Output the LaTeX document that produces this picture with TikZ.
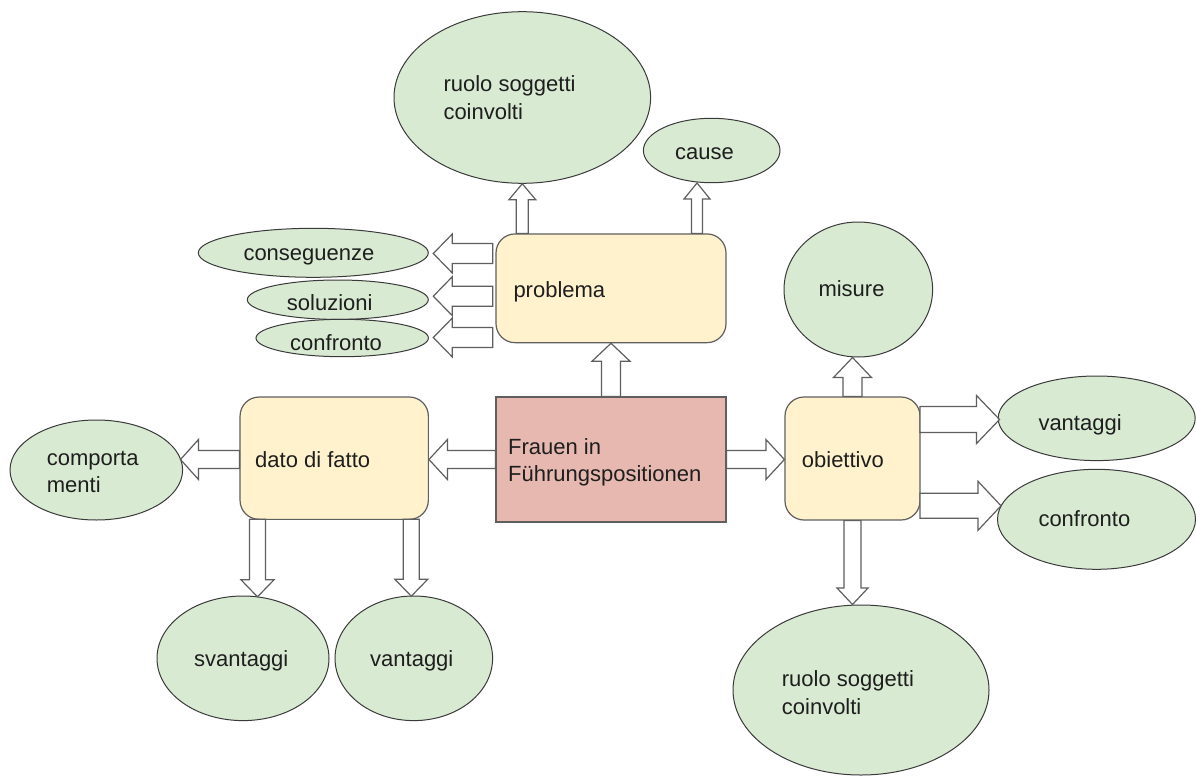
\documentclass[tikz,border=0pt]{standalone}
\usepackage{fontspec}
\setmainfont{Liberation Sans}
\usetikzlibrary{shapes.geometric,calc}
\definecolor{cgreen}{HTML}{D9EAD3}
\definecolor{cyellow}{HTML}{FFF2CC}
\definecolor{cpink}{HTML}{E6B8AF}
\definecolor{cline}{HTML}{5F5F5F}
\definecolor{cdark}{HTML}{3A3A3A}
\definecolor{ctext}{HTML}{1E1E1E}
\tikzset{
  ell/.style={ellipse, draw=cdark, fill=cgreen, line width=1pt, inner sep=0pt},
  rbox/.style={rectangle, rounded corners=19pt, draw=cline, fill=cyellow, line width=1.2pt, inner sep=0pt},
  mainbox/.style={rectangle, draw=cline, fill=cpink, line width=1.2pt, inner sep=0pt},
  lbl/.style={anchor=base west, inner sep=0pt, text=ctext, font=\fontsize{22}{27.6}\selectfont},
  blockarrow/.style={draw=cline, fill=white, line width=1.2pt, line join=miter},
}
% block arrow: #1 start, #2 tip, #3 angle, #4 half shaft, #5 half head, #6 head length
\newcommand\barrow[6]{%
  \begin{scope}[shift={(#1)},rotate=#3]
    \draw[blockarrow] let \p1=(#1), \p2=(#2), \n1={veclen(\x2-\x1,\y2-\y1)} in
      (0pt,-#4pt) -- ({\n1-#6pt},-#4pt) -- ({\n1-#6pt},-#5pt) -- (\n1,0pt)
      -- ({\n1-#6pt},#5pt) -- ({\n1-#6pt},#4pt) -- (0pt,#4pt) -- cycle;
  \end{scope}}
\begin{document}
\begin{tikzpicture}[x=1pt,y=-1pt]
\useasboundingbox[fill=white] (0,0) rectangle (1196,776);
% ellipses
\node[ell, minimum width=256.6pt, minimum height=171.6pt] (ruolo1) at (522.3,97.5) {};
\node[ell, minimum width=136.6pt, minimum height=64.4pt] (cause) at (711.7,150.5) {};
\node[ell, minimum width=230pt, minimum height=49pt] (consegu) at (313.3,252.8) {};
\node[ell, minimum width=181pt, minimum height=39.4pt] (soluz) at (337.8,299.7) {};
\node[ell, minimum width=172.4pt, minimum height=37.4pt] (confr1) at (342.2,338) {};
\node[ell, minimum width=172.6pt, minimum height=100pt] (comport) at (96.3,470) {};
\node[ell, minimum width=172pt, minimum height=124.6pt] (svant) at (243,658.3) {};
\node[ell, minimum width=157.6pt, minimum height=124.6pt] (vant1) at (413.8,658.3) {};
\node[ell, minimum width=148.6pt, minimum height=135pt] (misure) at (858.3,289.5) {};
\node[ell, minimum width=197pt, minimum height=84.6pt] (vant2) at (1096.7,418.3) {};
\node[ell, minimum width=198pt, minimum height=100pt] (confr2) at (1096.5,519.3) {};
\node[ell, minimum width=256pt, minimum height=170pt] (ruolo2) at (861,690) {};
% boxes
\node[mainbox, minimum width=230pt, minimum height=125pt] (frauen) at (611,459.5) {};
\node[rbox, minimum width=230pt, minimum height=108.7pt] (prob) at (611,288.3) {};
\node[rbox, minimum width=188.3pt, minimum height=122.3pt] (dato) at (334.2,458.2) {};
\node[rbox, minimum width=135pt, minimum height=123pt] (obi) at (852.5,458.5) {};
% labels
\node[lbl] (t1a) at (443.3,91.7) {ruolo soggetti};
\node[lbl] (t1b) at (443.3,119.3) {coinvolti};
\node[lbl] (t2) at (675,159.3) {cause};
\node[lbl] (t3) at (243.3,260.7) {conseguenze};
\node[lbl] (t4) at (286.7,310) {soluzioni};
\node[lbl] (t5) at (290,350) {confronto};
\node[lbl] (t6) at (513.3,297.3) {problema};
\node[lbl] (t7a) at (508,454) {Frauen in};
\node[lbl] (t7b) at (508,481.7) {Führungspositionen};
\node[lbl] (t8) at (255,467.3) {dato di fatto};
\node[lbl] (t9a) at (46.7,465) {comporta};
\node[lbl] (t9b) at (46.7,492.7) {menti};
\node[lbl] (t10) at (801.7,467) {obiettivo};
\node[lbl] (t11) at (818.3,296) {misure};
\node[lbl] (t12) at (1038.3,430) {vantaggi};
\node[lbl] (t13) at (1038.3,526.7) {confronto};
\node[lbl] (t14) at (194,666.7) {svantaggi};
\node[lbl] (t15) at (370,666.7) {vantaggi};
\node[lbl] (t16a) at (781.7,686.7) {ruolo soggetti};
\node[lbl] (t16b) at (781.7,714) {coinvolti};
% arrow end points
\coordinate (rs) at (ruolo1.south |- prob.north);
\coordinate (ct) at (697,183);
\coordinate (cs) at (ct |- prob.north);
\coordinate (pcs) at (492.7,253.5);
\coordinate (pce) at (433.3,253.5);
\coordinate (pss) at (492.7,296.2);
\coordinate (pse) at (433.3,296.2);
\coordinate (pfs) at (492.7,337.5);
\coordinate (pfe) at (433.3,337.5);
\coordinate (fde) at (dato.east |- frauen.west);
\coordinate (dcs) at (dato.west |- frauen.west);
\coordinate (dce) at (180.5,459.2);
\coordinate (foe) at (obi.west |- frauen.east);
\coordinate (ome) at (obi.north |- misure.south);
\coordinate (ovs) at (920,419.5);
\coordinate (ove) at (999.5,419.5);
\coordinate (ocs) at (920,505.8);
\coordinate (oce) at (1001,505.8);
\coordinate (ore) at (obi.south |- ruolo2.north);
\coordinate (dss) at (257.5,519.3);
\coordinate (dse) at (257.5,596.8);
\coordinate (dvs) at (411.3,519.3);
\coordinate (dve) at (411.3,596.2);
% arrows
\barrow{frauen.north}{prob.south}{90}{9.5}{19}{18}
\barrow{rs}{ruolo1.south}{90}{6}{13.5}{16}
\barrow{cs}{ct}{90}{5.5}{13}{16}
\barrow{pcs}{pce}{180}{10}{19.5}{19}
\barrow{pss}{pse}{180}{10}{19.5}{19}
\barrow{pfs}{pfe}{180}{10}{19.5}{19}
\barrow{frauen.west}{fde}{180}{9}{20}{18.5}
\barrow{dcs}{dce}{180}{9}{20}{18}
\barrow{frauen.east}{foe}{0}{9}{20}{18.5}
\barrow{obi.north}{ome}{90}{9.5}{19}{20}
\barrow{ovs}{ove}{0}{13}{24}{23}
\barrow{ocs}{oce}{0}{12.5}{24.5}{23}
\barrow{obi.south}{ore}{-90}{8.5}{15.5}{16.5}
\barrow{dss}{dse}{-90}{8}{16.5}{17}
\barrow{dvs}{dve}{-90}{8}{16.5}{17}
\end{tikzpicture}
\end{document}
